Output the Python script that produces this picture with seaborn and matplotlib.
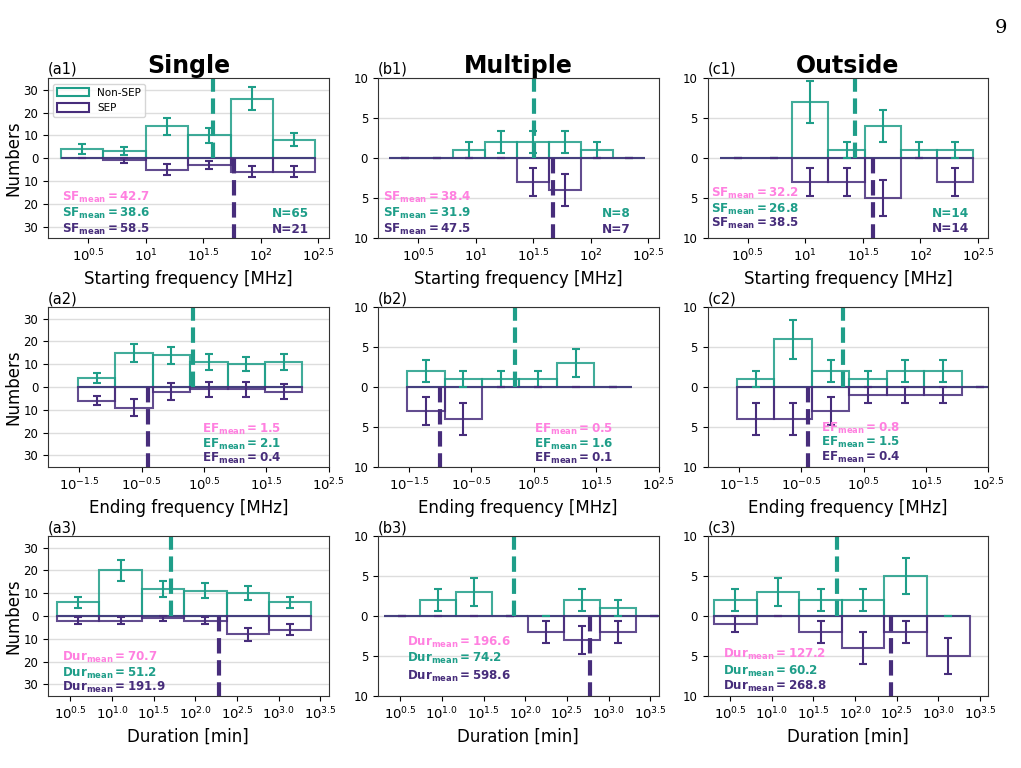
import numpy as np
import pandas as pd
import matplotlib
matplotlib.use("Agg")
import matplotlib.pyplot as plt
from matplotlib.patches import Patch
import seaborn as sns

TEAL = '#1f9e89'
PURPLE = '#472d7b'
PINK = '#ff80e0'

# --- data (counts per log10 bin) ---
# bins: (first edge, last edge, number of bins) in log10 units
a1_bins = (0.26, 2.475, 6)
a1_nonsep = [4, 3, 14, 10, 26, 8]
a1_sep = [0, 1, 5, 3, 6, 6]
a1_means = [42.7, 38.6, 58.5]

b1_bins = (0.25, 2.47, 8)
b1_nonsep = [0, 0, 1, 2, 2, 2, 1, 0]
b1_sep = [0, 0, 0, 0, 3, 4, 0, 0]
b1_means = [38.4, 31.9, 47.5]

c1_bins = (0.255, 2.46, 7)
c1_nonsep = [0, 0, 7, 1, 4, 1, 1]
c1_sep = [0, 0, 3, 3, 5, 0, 3]
c1_means = [32.2, 26.8, 38.5]

a2_bins = (-1.52, 2.08, 6)
a2_nonsep = [4, 15, 14, 11, 10, 11]
a2_sep = [6, 9, 2, 1, 1, 2]
a2_sep_err = [2.0, 3.9, 3.7, 3.3, 3.2, 3.3]
a2_means = [1.5, 2.1, 0.4]

b2_bins = (-1.53, 2.07, 6)
b2_nonsep = [2, 1, 1, 1, 3, 0]
b2_sep = [3, 4, 0, 0, 0, 0]
b2_means = [0.5, 1.6, 0.1]

c2_bins = (-1.53, 2.67, 7)
c2_nonsep = [1, 6, 2, 1, 2, 2, 0]
c2_sep = [4, 4, 3, 1, 1, 1, 0]
c2_means = [0.8, 1.5, 0.4]

a3_bins = (0.34, 3.39, 6)
a3_nonsep = [6, 20, 12, 11, 10, 6]
a3_sep = [2, 2, 1, 2, 8, 6]
a3_means = [70.7, 51.2, 191.9]

b3_bins = (0.308, 3.764, 8)
b3_nonsep = [0, 2, 3, 0, 0, 2, 1, 0]
b3_sep = [0, 0, 0, 0, 2, 3, 2, 0]
b3_means = [196.6, 74.2, 598.6]

c3_bins = (0.308, 3.374, 6)
c3_nonsep = [2, 3, 2, 2, 5, 0]
c3_sep = [1, 0, 2, 4, 2, 5]
c3_means = [127.2, 60.2, 268.8]

col_titles = ['Single', 'Multiple', 'Outside']
row_xlabels = ['Starting frequency [MHz]', 'Ending frequency [MHz]', 'Duration [min]']
row_symbols = ['SF', 'EF', 'Dur']
row_ticks = [[0.5, 1, 1.5, 2, 2.5],
             [-1.5, -0.5, 0.5, 1.5, 2.5],
             [0.5, 1.0, 1.5, 2.0, 2.5, 3.0, 3.5]]
row_ticklabels = [['0.5', '1', '1.5', '2', '2.5'],
                  ['-1.5', '-0.5', '0.5', '1.5', '2.5'],
                  ['0.5', '1.0', '1.5', '2.0', '2.5', '3.0', '3.5']]
row_xlims = [(0.15, 2.59), (-2.0, 2.5), (0.23, 3.6)]

panels = [
    [(a1_bins, a1_nonsep, a1_sep, None, a1_means), (b1_bins, b1_nonsep, b1_sep, None, b1_means), (c1_bins, c1_nonsep, c1_sep, None, c1_means)],
    [(a2_bins, a2_nonsep, a2_sep, a2_sep_err, a2_means), (b2_bins, b2_nonsep, b2_sep, None, b2_means), (c2_bins, c2_nonsep, c2_sep, None, c2_means)],
    [(a3_bins, a3_nonsep, a3_sep, None, a3_means), (b3_bins, b3_nonsep, b3_sep, None, b3_means), (c3_bins, c3_nonsep, c3_sep, None, c3_means)],
]

# where the mean-value texts sit (axes fraction: x, baselines of 3 lines)
text_pos = [
    [(0.05, [0.23, 0.13, 0.03]), (0.02, [0.23, 0.13, 0.03]), (0.013, [0.26, 0.16, 0.07])],
    [(0.55, [0.21, 0.12, 0.03]), (0.555, [0.21, 0.12, 0.03]), (0.405, [0.22, 0.13, 0.04])],
    [(0.05, [0.22, 0.12, 0.03]), (0.105, [0.31, 0.21, 0.10]), (0.056, [0.24, 0.13, 0.04])],
]
n_pos = [(0.93, [0.13, 0.03]), (0.90, [0.13, 0.03]), (0.93, [0.13, 0.04])]

fig, axes = plt.subplots(3, 3, figsize=(10.21, 7.68), dpi=100)
fig.subplots_adjust(left=0.047, right=0.968, top=0.898, bottom=0.094,
                    wspace=0.175, hspace=0.434)

for r in range(3):
    for c in range(3):
        ax = axes[r, c]
        (lo, hi, nb), nonsep, sep, sep_err, means = panels[r][c]
        edges = np.linspace(lo, hi, nb + 1)
        centers = 0.5 * (edges[:-1] + edges[1:])
        nonsep = np.array(nonsep, dtype=float)
        sep = np.array(sep, dtype=float)
        ylim = 35 if c == 0 else 10

        ax.grid(axis='y', color='#dddddd', lw=1, zorder=0)
        ax.set_axisbelow(True)

        df = pd.DataFrame({'logx': centers, 'nonsep': nonsep, 'sep': -sep})
        sns.histplot(data=df, x='logx', weights='nonsep', bins=list(edges),
                     element='bars', fill=False, color=TEAL, linewidth=1.5,
                     alpha=0.85, ax=ax)
        sns.histplot(data=df, x='logx', weights='sep', bins=list(edges),
                     element='bars', fill=False, color=PURPLE, linewidth=1.5,
                     alpha=0.85, ax=ax)

        err_ns = np.sqrt(nonsep)
        err_s = np.sqrt(sep) if sep_err is None else np.array(sep_err)
        ax.errorbar(centers, nonsep, yerr=err_ns, fmt='none', ecolor=TEAL,
                    elinewidth=1.5, capsize=3, capthick=1.5)
        ax.errorbar(centers, -sep, yerr=err_s, fmt='none', ecolor=PURPLE,
                    elinewidth=1.5, capsize=3, capthick=1.5)

        # mean lines
        ax.plot([np.log10(means[1])] * 2, [0, ylim], ls='--', lw=3, color=TEAL)
        ax.plot([np.log10(means[2])] * 2, [0, -ylim], ls='--', lw=3, color=PURPLE)

        ax.set_xlim(row_xlims[r])
        ax.set_ylim(-ylim, ylim)
        yt = [-30, -20, -10, 0, 10, 20, 30] if c == 0 else [-10, -5, 0, 5, 10]
        ax.set_yticks(yt)
        ax.set_yticklabels([str(abs(v)) for v in yt], fontsize=8.5)
        ax.set_xticks(row_ticks[r])
        ax.set_xticklabels(['$10^{%s}$' % t for t in row_ticklabels[r]], fontsize=9.5)
        ax.set_xlabel(row_xlabels[r], fontsize=12)
        ax.set_ylabel('Numbers' if c == 0 else '', fontsize=12, labelpad=1)
        for s in ax.spines.values():
            s.set_color('#333333')

        ax.set_title('(%s%d)' % ('abc'[c], r + 1), loc='left', fontsize=10.5, pad=3)
        if r == 0:
            ax.set_title(col_titles[c], fontsize=17, fontweight='bold', pad=3)

        tx, tys = text_pos[r][c]
        sym = row_symbols[r]
        for val, col, ty in zip(means, [PINK, TEAL, PURPLE], tys):
            ax.text(tx, ty, r'$\mathbf{%s_{mean}=%.1f}$' % (sym, val),
                    transform=ax.transAxes, color=col, fontsize=8.6,
                    ha='left', va='baseline')
        if r == 0:
            nx, nys = n_pos[c]
            ax.text(nx, nys[0], 'N=%d' % nonsep.sum(), transform=ax.transAxes,
                    color=TEAL, fontsize=8.7, fontweight='bold', ha='right', va='baseline')
            ax.text(nx, nys[1], 'N=%d' % sep.sum(), transform=ax.transAxes,
                    color=PURPLE, fontsize=8.7, fontweight='bold', ha='right', va='baseline')

handles = [Patch(facecolor='none', edgecolor=TEAL, linewidth=1.5, label='Non-SEP'),
           Patch(facecolor='none', edgecolor=PURPLE, linewidth=1.5, label='SEP')]
axes[0, 0].legend(handles=handles, loc='upper left', fontsize=7.5,
                  handlelength=3.0, handleheight=0.9)

fig.text(0.987, 0.975, '9', family='DejaVu Serif', fontsize=14, ha='right', va='top')

fig.savefig('out.png', dpi=100)
